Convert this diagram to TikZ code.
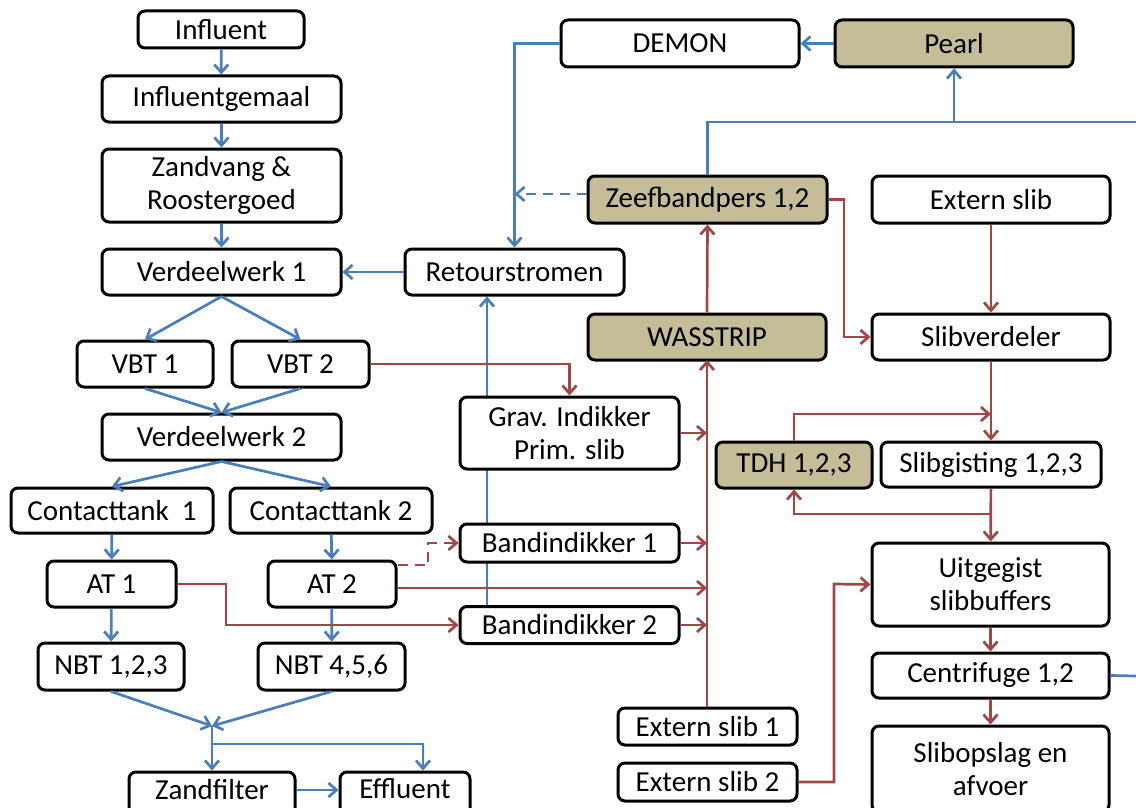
\documentclass[tikz,border=0pt]{standalone}
\usepackage{fontspec}
\setmainfont{Carlito}
\usetikzlibrary{arrows.meta,backgrounds,calc}
\definecolor{lblue}{RGB}{74,126,187}
\definecolor{lred}{RGB}{160,70,70}
\definecolor{tanfill}{RGB}{196,189,151}
\begin{document}
\begin{tikzpicture}[x=1pt,y=-1pt,
  box/.style={draw=black,line width=3pt,rounded corners=7pt,fill=white,inner sep=0pt,align=center,font=\fontsize{29}{33}\selectfont},
  tanbox/.style={box,fill=tanfill},
  bl/.style={draw=lblue,line width=2.7pt,-{Straight Barb[length=8pt,width=14pt]}},
  rd/.style={draw=lred,line width=2.7pt,-{Straight Barb[length=8pt,width=14pt]}},
  dsh/.style={dash pattern=on 10pt off 7pt}]
\useasboundingbox (0,0) rectangle (1136,808);
% left column
\node[box,minimum width=166,minimum height=37] (infl) at (221,29.5) {Influent};
\node[box,minimum width=239,minimum height=46] (gemaal) at (221.5,99) {Influentgemaal};
\node[box,minimum width=239,minimum height=73] (zand) at (221.5,185.5) {Zandvang \&\\Roostergoed};
\node[box,minimum width=239,minimum height=46] (vw1) at (221.5,272) {Verdeelwerk 1};
\node[box,minimum width=136,minimum height=46] (vbt1) at (145,364) {VBT 1};
\node[box,minimum width=137,minimum height=46] (vbt2) at (300.5,364) {VBT 2};
\node[box,minimum width=239,minimum height=46] (vw2) at (221.5,437) {Verdeelwerk 2};
\node[box,minimum width=202,minimum height=45] (ct1) at (112,510.5) {Contacttank~ 1};
\node[box,minimum width=202,minimum height=45] (ct2) at (331,510.5) {Contacttank 2};
\node[box,minimum width=129,minimum height=46] (at1) at (111.5,584) {AT 1};
\node[box,minimum width=128,minimum height=46] (at2) at (332,584) {AT 2};
\node[box,minimum width=146,minimum height=47] (nbt1) at (111,666.5) {NBT 1,2,3};
\node[box,minimum width=147,minimum height=47] (nbt2) at (331.5,666.5) {NBT 4,5,6};
\node[box,minimum width=166,minimum height=46,text depth=12pt] (zandf) at (212,795) {Zandfilter};
\node[box,minimum width=130,minimum height=46,text depth=12pt] (effl) at (405,795) {Effluent};
% middle
\node[box,minimum width=219,minimum height=46] (retour) at (514.5,272) {Retourstromen};
\node[box,minimum width=219,minimum height=72] (grav) at (569.5,433) {Grav. Indikker\\Prim. slib};
\node[box,minimum width=219,minimum height=38] (band1) at (569.5,543) {Bandindikker 1};
\node[box,minimum width=219,minimum height=37] (band2) at (569.5,625) {Bandindikker 2};
\node[box,minimum width=238,minimum height=47] (demon) at (680,43.5) {DEMON};
\node[tanbox,minimum width=238,minimum height=47] (pearl) at (954,43.5) {Pearl};
\node[tanbox,minimum width=239,minimum height=47] (zeef) at (707.5,199.5) {Zeefbandpers 1,2};
\node[tanbox,minimum width=238,minimum height=46] (wass) at (707,337) {WASSTRIP};
\node[box,minimum width=179,minimum height=37] (ext1) at (707.5,726.5) {Extern slib 1};
\node[box,minimum width=179,minimum height=38] (ext2) at (707.5,782) {Extern slib 2};
% right
\node[box,minimum width=238,minimum height=47] (extern) at (991,199.5) {Extern slib};
\node[box,minimum width=238,minimum height=46] (slibv) at (991,337) {Slibverdeler};
\node[tanbox,minimum width=156,minimum height=46] (tdh) at (794,465) {TDH 1,2,3};
\node[box,minimum width=220,minimum height=45] (gist) at (991,464.5) {Slibgisting 1,2,3};
\node[box,minimum width=237,minimum height=83] (uitg) at (990.5,584.5) {Uitgegist\\slibbuffers};
\node[box,minimum width=237,minimum height=45] (centr) at (990.5,675.5) {Centrifuge 1,2};
\node[box,minimum width=237,minimum height=86] (opslag) at (990.5,769) {Slibopslag en\\afvoer};
% coordinates
\coordinate (merge) at (212,726);
\coordinate (split) at (212,744);
\coordinate (edgeA) at (1136,122);
\coordinate (edgeB) at (1136,676);
\coordinate (trunk) at (707,360);
% blue connectors
\draw[bl] (infl) -- (gemaal);
\draw[bl] (gemaal) -- (zand);
\draw[bl] (zand) -- (vw1);
\draw[bl] (retour) -- (vw1);
\draw[bl] (vw1.south) -- (vbt1.north);
\draw[bl] (vw1.south) -- (vbt2.north);
\draw[bl] (vbt1.south) -- (vw2.north);
\draw[bl] (vbt2.south) -- (vw2.north);
\draw[bl] (vw2.south) -- (ct1.north);
\draw[bl] (vw2.south) -- (ct2.north);
\draw[bl] (ct1) -- (at1);
\draw[bl] (ct2) -- (at2);
\draw[bl] (at1) -- (nbt1);
\draw[bl] (at2) -- (nbt2);
\draw[bl] (nbt1.south) -- (merge);
\draw[bl] (nbt2.south) -- (merge);
\draw[bl] (merge) -- (zandf.north);
\draw[bl] (split) -| ($(effl.north)+(18,0)$);
\draw[bl] (zandf.east |- 0,790) -- (effl.west |- 0,790);
\begin{scope}[on background layer]
\draw[bl] (band2.north -| 487,0) -- (retour.south -| 487,0);
\end{scope}
\draw[bl] (demon.west) -| (retour.north);
\draw[bl,dsh] (zeef.west |- 0,194) -- (retour.north |- 0,194);
\draw[bl,-] (zeef.north) |- (edgeA);
\draw[bl] (pearl.south |- edgeA) -- (pearl.south);
\draw[bl] (pearl) -- (demon);
\draw[bl,-] (centr.east) -- (edgeB);
% red connectors
\draw[rd] (vbt2.east) -| (grav.north);
\draw[rd] (grav.east) -- (grav.east -| trunk);
\draw[rd] (band1.east) -- (band1.east -| trunk);
\draw[rd] (at2.east |- 0,588) -- (trunk |- 0,588);
\draw[rd,dsh] (at2.east |- 0,565) -| (428,543) -- (band1.west);
\draw[rd] (band2.east) -- (band2.east -| trunk);
\draw[rd] (at1.east) -| (226,625) -- (band2.west);
\draw[rd] (ext1.north -| trunk) -- (trunk);
\draw[rd] (wass.north) -- (zeef.south);
\draw[rd] (zeef.east) -| (844,337) -- (slibv.west);
\draw[rd] (extern) -- (slibv);
\draw[rd] (slibv) -- (gist);
\draw[rd] (tdh.north) |- (gist.north |- 0,414);
\draw[rd] (gist) -- (uitg);
\draw[rd] (gist.south |- 0,514) -| (tdh.south);
\draw[rd] (ext2.east) -| (834,584) -- (uitg.west);
\draw[rd] (uitg) -- (centr);
\draw[rd] (centr) -- (opslag);
\end{tikzpicture}
\end{document}
